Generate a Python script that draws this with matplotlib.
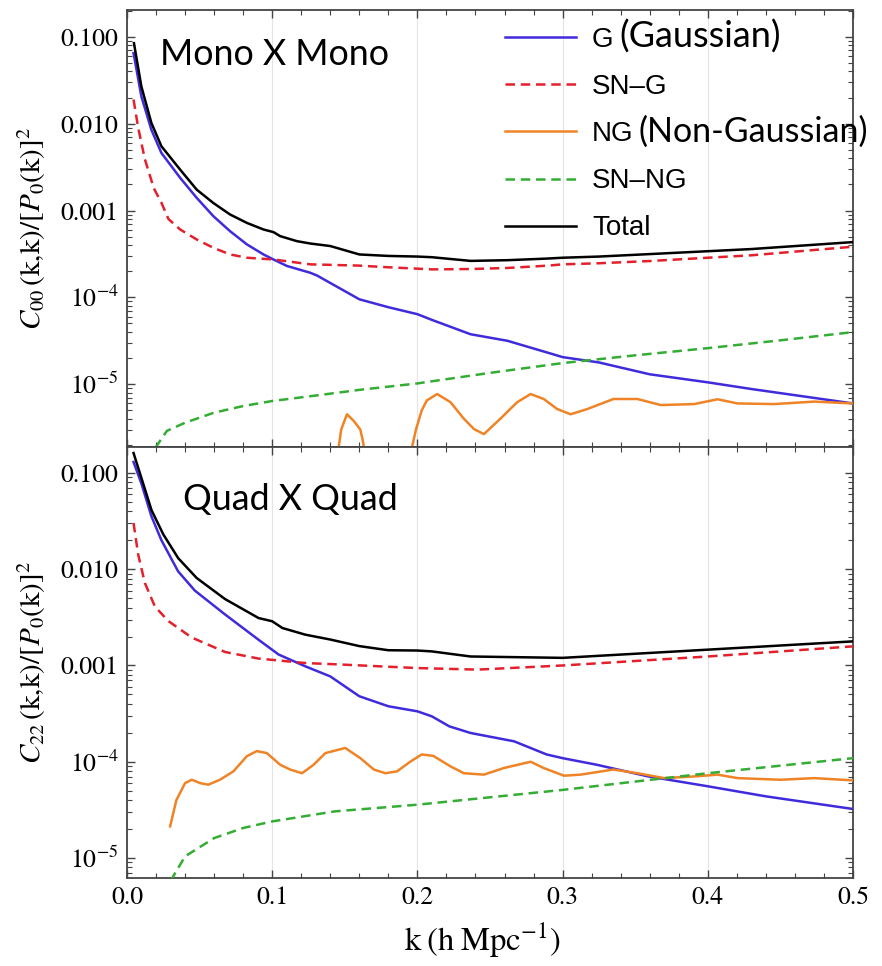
import numpy as np
import matplotlib
matplotlib.use("Agg")
import matplotlib.pyplot as plt
from matplotlib.ticker import FixedLocator, LogLocator, FuncFormatter, NullFormatter, MultipleLocator
from matplotlib.lines import Line2D

plt.rcParams["mathtext.fontset"] = "stix"
plt.rcParams["font.family"] = ["STIXGeneral", "DejaVu Serif"]

# ---------------- Monopole x Monopole ----------------
k_mono_G = [0.0045, 0.0099, 0.0168, 0.0237, 0.0366, 0.048, 0.0595, 0.071, 0.0826, 0.094,
            0.1009, 0.1101, 0.1262, 0.131, 0.16, 0.18, 0.20, 0.21, 0.2366, 0.262, 0.29, 0.30,
            0.325, 0.36, 0.40, 0.43, 0.50]
mono_G = [0.065, 0.0206, 0.0085, 0.0046, 0.00238, 0.0014, 0.00086, 0.000578, 0.000407,
          0.000312, 0.000273, 0.00023, 0.000192, 0.000178, 9.5e-5, 7.7e-5, 6.4e-5, 5.5e-5,
          3.76e-5, 3.16e-5, 2.3e-5, 2.05e-5, 1.78e-5, 1.3e-5, 1.05e-5, 8.8e-6, 6.0e-6]

k_mono_SNG = [0.0045, 0.0077, 0.0123, 0.0185, 0.0237, 0.0285, 0.0366, 0.048, 0.0595, 0.071,
              0.0826, 0.1009, 0.1262, 0.143, 0.16, 0.18, 0.20, 0.21, 0.2366, 0.262, 0.29, 0.30,
              0.325, 0.36, 0.40, 0.43, 0.50]
mono_SNG = [0.019, 0.009, 0.0039, 0.0018, 0.00123, 0.0008, 0.000605, 0.000464, 0.000372,
            0.000312, 0.000286, 0.000273, 0.00024, 0.000236, 0.000232, 0.000222, 0.000214,
            0.00021, 0.000212, 0.000218, 0.000232, 0.00024, 0.000247, 0.000262, 0.000286,
            0.000305, 0.000383]

k_mono_NG = [0.145, 0.1475, 0.1515, 0.156, 0.1607, 0.1625, 0.164, 0.195, 0.199, 0.203, 0.2065,
             0.2136, 0.2228, 0.232, 0.239, 0.2458, 0.257, 0.2687, 0.278, 0.287, 0.2963, 0.3055,
             0.317, 0.335, 0.3515, 0.3676, 0.3906, 0.4067, 0.4205, 0.4457, 0.4733, 0.50]
mono_NG = [1.5e-6, 3.0e-6, 4.5e-6, 3.8e-6, 3.0e-6, 2.2e-6, 1.5e-6, 1.5e-6, 3.0e-6, 5.0e-6, 6.5e-6,
           7.7e-6, 6.2e-6, 4.0e-6, 3.04e-6, 2.66e-6, 3.98e-6, 6.2e-6, 7.7e-6, 6.75e-6, 5.17e-6,
           4.5e-6, 5.17e-6, 6.75e-6, 6.75e-6, 5.75e-6, 5.9e-6, 6.7e-6, 6.0e-6, 5.9e-6, 6.3e-6, 6.0e-6]

k_mono_SNNG = [0.0195, 0.0275, 0.04, 0.06, 0.08, 0.10, 0.13, 0.16, 0.20, 0.21, 0.25, 0.30,
               0.35, 0.40, 0.45, 0.50]
mono_SNNG = [1.85e-6, 2.9e-6, 3.6e-6, 4.7e-6, 5.6e-6, 6.4e-6, 7.4e-6, 8.6e-6, 1.02e-5, 1.08e-5,
             1.35e-5, 1.75e-5, 2.15e-5, 2.6e-5, 3.2e-5, 3.98e-5]

k_mono_tot = [0.0048, 0.0099, 0.0168, 0.0237, 0.0366, 0.048, 0.0595, 0.071, 0.0826, 0.094,
              0.1009, 0.1055, 0.117, 0.1262, 0.14, 0.16, 0.18, 0.20, 0.21, 0.2366, 0.262, 0.29,
              0.30, 0.325, 0.36, 0.40, 0.43, 0.50]
mono_tot = [0.0846, 0.0268, 0.0102, 0.0055, 0.00296, 0.00174, 0.00122, 0.0009, 0.00072,
            0.000605, 0.000564, 0.000507, 0.000444, 0.000417, 0.00039, 0.000312, 0.0003,
            0.000295, 0.00029, 0.000263, 0.000268, 0.00028, 0.000286, 0.000295, 0.000315,
            0.00034, 0.00036, 0.000433]

# ---------------- Quadrupole x Quadrupole ----------------
k_quad_G = [0.0045, 0.01, 0.0168, 0.0237, 0.0352, 0.0467, 0.0674, 0.0906, 0.1044, 0.1228, 0.14,
            0.16, 0.18, 0.20, 0.21, 0.222, 0.2366, 0.2666, 0.289, 0.30, 0.3236, 0.3584, 0.40,
            0.44, 0.50]
quad_G = [0.13, 0.077, 0.0355, 0.02, 0.0095, 0.006, 0.0034, 0.00185, 0.0013, 0.00098, 0.00077,
          0.000479, 0.000377, 0.000334, 0.000296, 0.000233, 0.000199, 0.000163, 0.000119,
          0.000109, 9.3e-5, 7.07e-5, 5.56e-5, 4.37e-5, 3.23e-5]

k_quad_SNG = [0.0045, 0.0077, 0.0123, 0.0192, 0.0284, 0.0446, 0.0676, 0.0906, 0.1228, 0.143,
              0.20, 0.2414, 0.30, 0.40, 0.50]
quad_SNG = [0.0302, 0.0142, 0.0072, 0.0041, 0.0029, 0.00195, 0.00138, 0.00118, 0.00106,
            0.00103, 0.00094, 0.000906, 0.001, 0.00124, 0.00158]

k_quad_NG = [0.0297, 0.034, 0.04, 0.0446, 0.0503, 0.056, 0.064, 0.0733, 0.0825, 0.0894, 0.0963,
             0.1055, 0.1124, 0.1205, 0.1285, 0.1366, 0.1503, 0.1607, 0.17, 0.178, 0.186, 0.195,
             0.203, 0.211, 0.2228, 0.232, 0.2458, 0.2595, 0.278, 0.287, 0.301, 0.3124, 0.335,
             0.3515, 0.37, 0.393, 0.4067, 0.4205, 0.4503, 0.4733, 0.50]
quad_NG = [2.13e-5, 4.0e-5, 6.0e-5, 6.5e-5, 6.0e-5, 5.78e-5, 6.5e-5, 7.95e-5, 1.14e-4, 1.29e-4,
           1.23e-4, 9.3e-5, 8.3e-5, 7.6e-5, 9.3e-5, 1.23e-4, 1.39e-4, 1.09e-4, 8.3e-5, 7.6e-5,
           7.95e-5, 1.0e-4, 1.19e-4, 1.15e-4, 8.95e-5, 7.6e-5, 7.35e-5, 8.6e-5, 1.0e-4, 8.6e-5,
           7.16e-5, 7.35e-5, 8.3e-5, 7.6e-5, 6.76e-5, 7.07e-5, 7.35e-5, 6.76e-5, 6.5e-5,
           6.76e-5, 6.4e-5]

k_quad_SNNG = [0.030, 0.04, 0.06, 0.08, 0.10, 0.143, 0.20, 0.30, 0.40, 0.50]
quad_SNNG = [5.8e-6, 1.04e-5, 1.61e-5, 2.05e-5, 2.4e-5, 3.05e-5, 3.58e-5, 5.1e-5, 7.6e-5, 1.09e-4]

k_quad_tot = [0.0045, 0.01, 0.0169, 0.025, 0.0353, 0.048, 0.0675, 0.0906, 0.10, 0.107, 0.1228,
              0.14, 0.16, 0.18, 0.20, 0.21, 0.2366, 0.30, 0.40, 0.50]
quad_tot = [0.161, 0.088, 0.041, 0.023, 0.013, 0.0081, 0.0049, 0.00311, 0.00288, 0.00245,
            0.00209, 0.00186, 0.00159, 0.00144, 0.00143, 0.0014, 0.00124, 0.0012, 0.00146,
            0.00178]

series_labels = ["G", "SN\u2013G", "NG", "SN\u2013NG", "Total"]
panel_titles = ["Mono X Mono", "Quad X Quad"]
ylabels = [r"$C_{00}\,(\mathrm{k{,}k})/[P_0(\mathrm{k})]^2$",
           r"$C_{22}\,(\mathrm{k{,}k})/[P_0(\mathrm{k})]^2$"]
xlabel = r"$\mathrm{k\;(h\;Mpc^{-1})}$"

C_G = "#3f2bdc"
C_SNG = "#e3202c"
C_NG = "#f08326"
C_SNNG = "#33ad33"
C_TOT = "#000000"
LW = 1.8
DASH = (3.8, 2.3)

W, H = 882, 966
fig = plt.figure(figsize=(W / 100, H / 100), dpi=100)
left, right = 127, 853
ax1 = fig.add_axes([left / W, 1 - 447 / H, (right - left) / W, (447 - 10) / H])
ax2 = fig.add_axes([left / W, 1 - 878 / H, (right - left) / W, (878 - 447) / H])


def fmt_y(v, pos):
    e = int(round(np.log10(v)))
    if e >= -3:
        return f"{v:.3f}"
    return r"$10^{%d}$" % e


def draw(ax, data, ylim):
    (kG, G), (kS, S), (kN, N), (kSN, SN), (kT, T) = data
    ax.plot(kG, G, color=C_G, lw=LW, zorder=3)
    ax.plot(kS, S, color=C_SNG, lw=LW, dashes=DASH, zorder=3)
    ax.plot(kN, N, color=C_NG, lw=LW, zorder=3)
    ax.plot(kSN, SN, color=C_SNNG, lw=LW, dashes=DASH, zorder=3)
    ax.plot(kT, T, color=C_TOT, lw=LW, zorder=4)
    ax.set_yscale("log")
    ax.set_xlim(0, 0.5)
    ax.set_ylim(*ylim)
    ax.xaxis.set_major_locator(MultipleLocator(0.1))
    ax.xaxis.set_minor_locator(MultipleLocator(0.02))
    ax.yaxis.set_major_locator(FixedLocator([1e-5, 1e-4, 1e-3, 1e-2, 1e-1]))
    ax.yaxis.set_minor_locator(LogLocator(base=10, subs=np.arange(2, 10)))
    ax.yaxis.set_major_formatter(FuncFormatter(fmt_y))
    ax.yaxis.set_minor_formatter(NullFormatter())
    ax.tick_params(which="both", direction="in", top=True, right=True, colors="#444444",
                   labelcolor="black", labelsize=18.5)
    ax.tick_params(which="major", length=6, width=1.0, pad=6)
    ax.tick_params(which="minor", length=3.5, width=0.8)
    ax.grid(True, which="major", axis="x", color="#e4e4e4", lw=0.8, zorder=0)
    for sp in ax.spines.values():
        sp.set_color("#444444")
        sp.set_linewidth(1.3)


draw(ax1, [(k_mono_G, mono_G), (k_mono_SNG, mono_SNG), (k_mono_NG, mono_NG),
           (k_mono_SNNG, mono_SNNG), (k_mono_tot, mono_tot)], (1.89e-6, 0.204))
draw(ax2, [(k_quad_G, quad_G), (k_quad_SNG, quad_SNG), (k_quad_NG, quad_NG),
           (k_quad_SNNG, quad_SNNG), (k_quad_tot, quad_tot)], (6.2e-6, 0.186))
ax1.tick_params(labelbottom=False)
ax2.set_xticks([0.0, 0.1, 0.2, 0.3, 0.4, 0.5])
ax2.set_xticklabels(["0.0", "0.1", "0.2", "0.3", "0.4", "0.5"])

for ax, lab in zip([ax1, ax2], ylabels):
    ax.set_ylabel(lab, fontsize=21, va="center")
    ax.yaxis.set_label_coords(-0.131, 0.5)
ax2.set_xlabel(xlabel, fontsize=23.5, va="center")
ax2.xaxis.set_label_coords(0.49, -0.145)

# panel titles
ax1.text(160 / W, 1 - 65 / H, panel_titles[0], transform=fig.transFigure,
         fontsize=25.8, family="Lato", ha="left", va="baseline")
ax2.text(183 / W, 1 - 510 / H, panel_titles[1], transform=fig.transFigure,
         fontsize=25.8, family="Lato", ha="left", va="baseline")

# legend
handles = [Line2D([], [], color=C_G, lw=LW),
           Line2D([], [], color=C_SNG, lw=LW, dashes=DASH),
           Line2D([], [], color=C_NG, lw=LW),
           Line2D([], [], color=C_SNNG, lw=LW, dashes=DASH),
           Line2D([], [], color=C_TOT, lw=LW)]
leg = fig.legend(handles, series_labels, loc="upper left",
                 bbox_to_anchor=(505 / W, 1 - 27 / H), frameon=False,
                 prop={"family": "Liberation Sans", "size": 20},
                 handlelength=2.55, handletextpad=0.58, labelspacing=0.76,
                 borderpad=0, borderaxespad=0)

fig.text(619 / W, 1 - 48 / H, "(Gaussian)", fontsize=26, family="Lato",
         ha="left", va="baseline")
fig.text(638 / W, 1 - 142 / H, "(Non-Gaussian)", fontsize=24.5, family="Lato",
         ha="left", va="baseline")

fig.savefig("out.png", dpi=100)
